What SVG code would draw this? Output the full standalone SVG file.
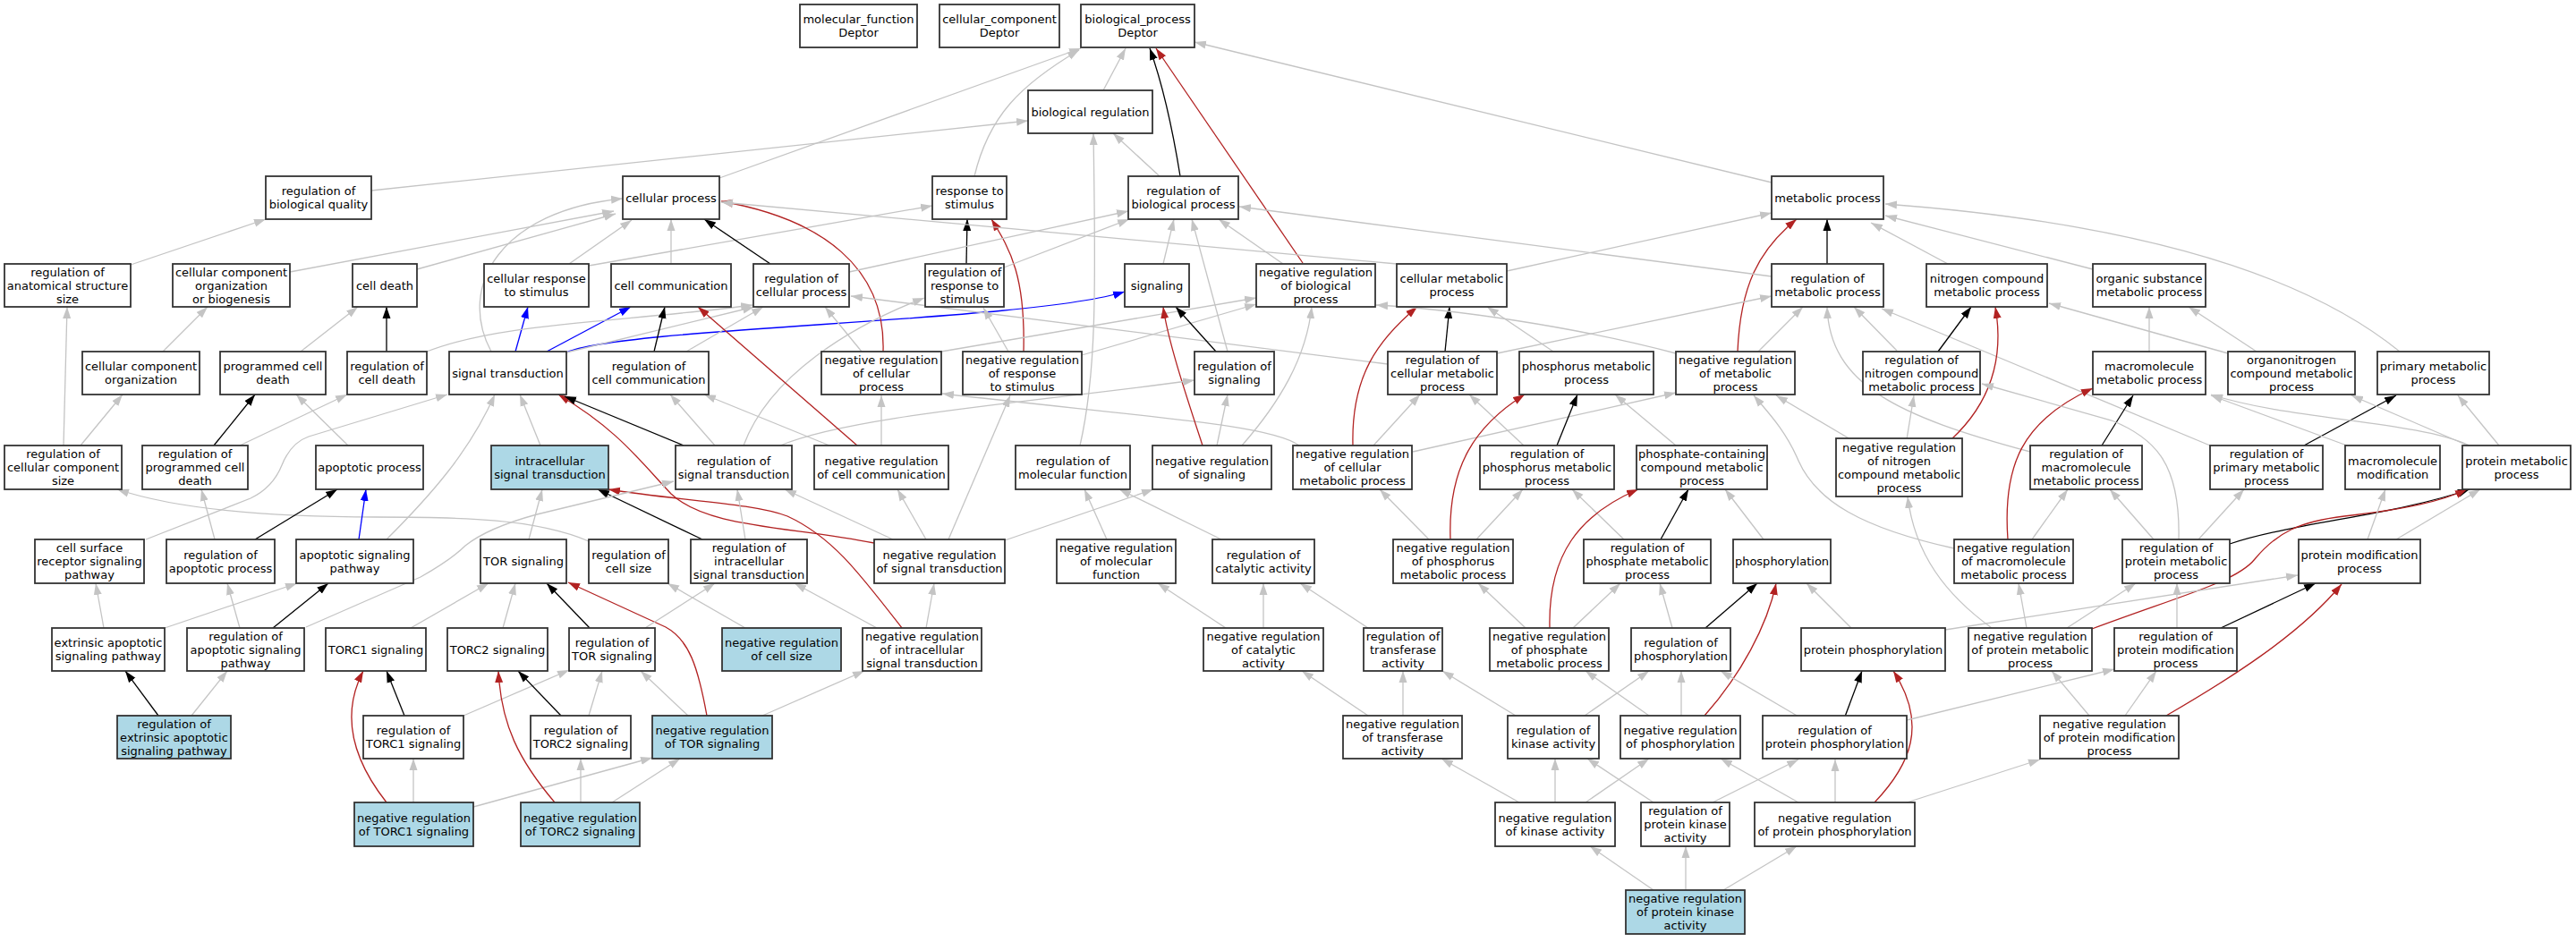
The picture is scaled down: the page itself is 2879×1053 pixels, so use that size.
<svg xmlns="http://www.w3.org/2000/svg" width="2879" height="1053" viewBox="0 0 2879 1053">
<style>
.node rect{fill:#fff;stroke:#333;stroke-width:1.8}
.node.hl rect{fill:#add8e6}
.node text{font-family:"DejaVu Sans","Liberation Sans",sans-serif;font-size:13px;fill:#000;text-anchor:middle}
#edges path{fill:none;stroke-width:1.3}
#edges .g{stroke:#c4c4c4;marker-end:url(#ag)}
#edges .k{stroke:#000;marker-end:url(#ak)}
#edges .r{stroke:#b22222;marker-end:url(#ar)}
#edges .b{stroke:#0000ff;marker-end:url(#ab)}
</style>
<defs>
<marker id="ag" viewBox="0 0 13 10" markerWidth="13" markerHeight="10" refX="13" refY="5" orient="auto" markerUnits="userSpaceOnUse"><path d="M0,0.5 L13,5 L0,9.5 z" fill="#c4c4c4"/></marker>
<marker id="ak" viewBox="0 0 13 10" markerWidth="13" markerHeight="10" refX="13" refY="5" orient="auto" markerUnits="userSpaceOnUse"><path d="M0,0.5 L13,5 L0,9.5 z" fill="#000"/></marker>
<marker id="ar" viewBox="0 0 13 10" markerWidth="13" markerHeight="10" refX="13" refY="5" orient="auto" markerUnits="userSpaceOnUse"><path d="M0,0.5 L13,5 L0,9.5 z" fill="#b22222"/></marker>
<marker id="ab" viewBox="0 0 13 10" markerWidth="13" markerHeight="10" refX="13" refY="5" orient="auto" markerUnits="userSpaceOnUse"><path d="M0,0.5 L13,5 L0,9.5 z" fill="#0000ff"/></marker>
</defs>
<rect x="0" y="0" width="2879" height="1053" fill="#fff"/>
<g id="edges">
<path class="g" d="M415,213 L1149,135"/>
<path class="g" d="M146,296 L297,245"/>
<path class="g" d="M324,304 L686,236"/>
<path class="g" d="M466,301 L688,239"/>
<path class="g" d="M549,393 C510,320 560,235 696,222"/>
<path class="g" d="M636,295 L706,246"/>
<path class="g" d="M658,297 L1042,230"/>
<path class="k" d="M432,393 L432,343"/>
<path class="g" d="M336,393 L400,343"/>
<path class="g" d="M182,393 L232,343"/>
<path class="g" d="M71,498 L75,343"/>
<path class="g" d="M90,498 L137,441"/>
<path class="k" d="M239,498 L285,441"/>
<path class="g" d="M268,498 L388,441"/>
<path class="g" d="M389,498 L331,441"/>
<path class="b" d="M576,393 L590,343"/>
<path class="b" d="M611,393 L705,343"/>
<path class="b" d="M633,394 C700,365 1150,360 1257,326"/>
<path class="g" d="M477,393 C560,360 700,360 841,341"/>
<path class="g" d="M633,394 L843,343"/>
<path class="g" d="M767,393 L853,343"/>
<path class="g" d="M604,498 L581,441"/>
<path class="g" d="M163,603 L280,557 Q305,545 315,520 Q325,495 345,488 L500,441"/>
<path class="g" d="M432,603 C480,555 525,505 553,441"/>
<path class="r" d="M977,607 C880,588 790,590 750,552 C715,515 690,480 624,441"/>
<path class="r" d="M1008,702 C960,640 930,600 880,577 C840,562 760,560 680,547"/>
<path class="k" d="M764,498 L631,443"/>
<path class="k" d="M785,603 L668,547"/>
<path class="g" d="M658,605 C600,580 520,578 420,578 C300,578 200,570 131,547"/>
<path class="g" d="M240,603 L225,547"/>
<path class="k" d="M285,603 L377,547"/>
<path class="b" d="M401,603 L409,547"/>
<path class="g" d="M591,603 L606,547"/>
<path class="g" d="M342,701 L470,645 Q505,625 520,610 Q545,590 600,575 L753,538"/>
<path class="g" d="M116,702 L107,652"/>
<path class="g" d="M184,702 L332,652"/>
<path class="g" d="M268,702 L254,652"/>
<path class="k" d="M305,702 L367,652"/>
<path class="g" d="M459,702 L546,652"/>
<path class="g" d="M562,702 L576,652"/>
<path class="k" d="M659,702 L611,652"/>
<path class="r" d="M790,800 C780,745 770,715 744,701 L635,651"/>
<path class="k" d="M177,800 L140,750"/>
<path class="g" d="M214,800 L254,750"/>
<path class="k" d="M452,800 L432,750"/>
<path class="g" d="M518,800 L636,749"/>
<path class="k" d="M627,800 L579,750"/>
<path class="g" d="M658,800 L673,750"/>
<path class="r" d="M432,897 C395,850 380,800 406,750"/>
<path class="g" d="M462,897 L462,848"/>
<path class="g" d="M529,902 L729,847"/>
<path class="r" d="M620,897 C580,850 560,810 557,750"/>
<path class="g" d="M649,897 L649,848"/>
<path class="g" d="M684,897 L760,848"/>
<path class="g" d="M721,702 L799,652"/>
<path class="g" d="M769,800 L716,750"/>
<path class="g" d="M852,800 L966,750"/>
<path class="g" d="M833,702 L746,652"/>
<path class="g" d="M980,702 L888,652"/>
<path class="g" d="M1035,702 L1044,652"/>
<path class="g" d="M833,603 L824,547"/>
<path class="g" d="M998,603 L877,547"/>
<path class="g" d="M1035,603 L1003,547"/>
<path class="g" d="M1060,603 L1129,442"/>
<path class="g" d="M1123,604 L1289,547"/>
<path class="g" d="M1237,603 L1212,547"/>
<path class="g" d="M1365,603 L1251,547"/>
<path class="g" d="M1370,702 L1294,652"/>
<path class="g" d="M1412,702 L1412,652"/>
<path class="g" d="M804,199 L1208,54"/>
<path class="g" d="M1089,197 C1105,130 1140,95 1206,56"/>
<path class="g" d="M1233,101 L1258,54"/>
<path class="k" d="M1319,197 Q1305,110 1285,54"/>
<path class="r" d="M1456,294 L1292,54"/>
<path class="g" d="M1980,204 L1335,47"/>
<path class="g" d="M1296,197 L1244,149"/>
<path class="g" d="M1207,498 C1225,420 1225,330 1222,149"/>
<path class="g" d="M750,295 L750,245"/>
<path class="k" d="M861,295 L787,245"/>
<path class="r" d="M987,393 C990,300 920,245 806,225"/>
<path class="k" d="M1080,295 L1081,245"/>
<path class="r" d="M1144,393 C1146,310 1130,280 1108,245"/>
<path class="g" d="M949,304 L1261,236"/>
<path class="g" d="M1122,299 L1262,245"/>
<path class="g" d="M1300,295 L1312,245"/>
<path class="g" d="M1372,393 L1332,245"/>
<path class="g" d="M1434,295 L1362,245"/>
<path class="g" d="M1561,295 L806,226"/>
<path class="g" d="M1551,407 L951,331"/>
<path class="g" d="M1452,498 C1420,475 1300,468 1053,440"/>
<path class="g" d="M963,393 L922,343"/>
<path class="g" d="M1052,393 L1404,333"/>
<path class="g" d="M1127,393 L1099,344"/>
<path class="g" d="M1209,397 L1404,340"/>
<path class="k" d="M1359,393 L1314,343"/>
<path class="r" d="M1344,498 C1325,440 1305,380 1300,343"/>
<path class="g" d="M1360,498 L1372,441"/>
<path class="g" d="M1388,498 C1430,450 1460,400 1466,343"/>
<path class="g" d="M872,498 C950,465 1150,450 1335,425"/>
<path class="g" d="M831,498 C860,420 950,365 1033,333"/>
<path class="g" d="M799,498 L749,441"/>
<path class="g" d="M927,498 L787,441"/>
<path class="r" d="M958,498 L780,343"/>
<path class="g" d="M985,498 L985,442"/>
<path class="k" d="M731,393 L743,343"/>
<path class="g" d="M1684,303 L1980,238"/>
<path class="k" d="M1615,393 L1620,343"/>
<path class="r" d="M1512,498 C1510,420 1540,380 1584,343"/>
<path class="g" d="M1736,393 L1662,343"/>
<path class="k" d="M2042,295 L2042,245"/>
<path class="r" d="M1942,393 C1945,320 1965,280 2008,245"/>
<path class="g" d="M1673,395 L1980,331"/>
<path class="g" d="M1873,395 C1760,365 1620,345 1538,341"/>
<path class="g" d="M1965,393 L2015,343"/>
<path class="g" d="M2120,392 L2072,343"/>
<path class="g" d="M2269,505 C2120,465 2045,430 2042,343"/>
<path class="g" d="M2470,498 L2103,345"/>
<path class="g" d="M1980,309 L1385,231"/>
<path class="g" d="M2068,491 L1985,442"/>
<path class="g" d="M1535,498 L1587,441"/>
<path class="g" d="M1579,505 L1873,439"/>
<path class="k" d="M1740,498 L1763,441"/>
<path class="g" d="M1703,498 L1642,441"/>
<path class="g" d="M1873,498 L1805,441"/>
<path class="r" d="M1621,603 C1618,520 1650,475 1704,441"/>
<path class="g" d="M2184,613 C2080,590 2030,560 2010,515 C1995,480 1975,460 1960,442"/>
<path class="g" d="M1597,603 L1542,547"/>
<path class="g" d="M1650,603 L1702,547"/>
<path class="g" d="M1815,603 L1757,547"/>
<path class="k" d="M1856,603 L1887,547"/>
<path class="r" d="M1732,702 C1730,620 1765,575 1831,547"/>
<path class="g" d="M1971,603 L1928,547"/>
<path class="g" d="M1529,702 L1453,652"/>
<path class="g" d="M1705,702 L1652,652"/>
<path class="g" d="M1758,702 L1811,652"/>
<path class="g" d="M1869,702 L1855,652"/>
<path class="k" d="M1906,702 L1964,652"/>
<path class="r" d="M1905,800 C1945,755 1975,700 1985,652"/>
<path class="g" d="M2069,702 L2019,652"/>
<path class="g" d="M1529,800 L1455,750"/>
<path class="g" d="M1568,800 L1568,750"/>
<path class="g" d="M1694,800 L1612,750"/>
<path class="g" d="M1771,800 L1843,750"/>
<path class="g" d="M1843,800 L1772,750"/>
<path class="g" d="M1879,800 L1879,750"/>
<path class="g" d="M2010,801 L1923,750"/>
<path class="k" d="M2062,801 L2081,750"/>
<path class="r" d="M2095,897 C2135,855 2155,810 2116,750"/>
<path class="g" d="M1698,897 L1611,848"/>
<path class="g" d="M1738,897 L1738,848"/>
<path class="g" d="M1772,897 L1843,848"/>
<path class="g" d="M1848,897 L1774,848"/>
<path class="g" d="M1914,897 L2010,849"/>
<path class="g" d="M2010,897 L1923,848"/>
<path class="g" d="M2051,897 L2051,849"/>
<path class="g" d="M1848,995 L1777,946"/>
<path class="g" d="M1884,995 L1884,946"/>
<path class="g" d="M1926,995 L2008,946"/>
<path class="g" d="M2177,295 L2091,249"/>
<path class="g" d="M2339,301 L2107,241"/>
<path class="g" d="M2682,393 C2580,310 2400,250 2107,228"/>
<path class="k" d="M2166,393 L2203,343"/>
<path class="r" d="M2181,491 C2225,450 2240,400 2230,343"/>
<path class="g" d="M2402,393 L2402,343"/>
<path class="g" d="M2522,393 L2446,343"/>
<path class="g" d="M2490,395 L2290,339"/>
<path class="k" d="M2349,498 L2384,442"/>
<path class="r" d="M2244,603 C2238,520 2260,470 2339,434"/>
<path class="k" d="M2575,498 L2678,442"/>
<path class="g" d="M2793,498 L2747,442"/>
<path class="g" d="M2760,498 C2700,470 2560,470 2471,441"/>
<path class="g" d="M2758,498 L2628,442"/>
<path class="g" d="M2623,498 L2471,442"/>
<path class="g" d="M2435,603 C2437,520 2410,490 2360,470 L2215,429"/>
<path class="g" d="M2407,603 L2358,547"/>
<path class="g" d="M2457,603 L2508,547"/>
<path class="k" d="M2492,608 C2560,585 2680,575 2760,547"/>
<path class="r" d="M2338,703 C2440,665 2500,650 2520,625 C2545,595 2570,583 2620,577 C2690,569 2730,560 2757,547"/>
<path class="g" d="M2646,603 L2666,547"/>
<path class="g" d="M2678,603 L2772,547"/>
<path class="g" d="M2271,603 L2311,547"/>
<path class="g" d="M2265,702 L2256,652"/>
<path class="g" d="M2310,702 L2387,652"/>
<path class="g" d="M2433,702 L2433,652"/>
<path class="k" d="M2482,702 L2588,652"/>
<path class="g" d="M2335,800 L2293,750"/>
<path class="g" d="M2375,800 L2410,750"/>
<path class="r" d="M2421,800 C2490,760 2570,710 2617,653"/>
<path class="g" d="M2174,704 L2568,643"/>
<path class="g" d="M2131,805 L2363,748"/>
<path class="g" d="M2125,899 L2280,849"/>
<path class="g" d="M2226,702 C2175,665 2140,620 2132,555"/>
<path class="g" d="M2131,491 L2139,442"/>
</g>
<g id="n_mf" class="node"><rect x="894" y="5" width="131" height="48"/><text x="959.5" y="26.1"><tspan x="959.5">molecular_function</tspan><tspan x="959.5" dy="15">Deptor</tspan></text></g>
<g id="n_cc_root" class="node"><rect x="1050" y="5" width="134" height="48"/><text x="1117" y="26.1"><tspan x="1117">cellular_component</tspan><tspan x="1117" dy="15">Deptor</tspan></text></g>
<g id="n_bp" class="node"><rect x="1208" y="5" width="127" height="48"/><text x="1271.5" y="26.1"><tspan x="1271.5">biological_process</tspan><tspan x="1271.5" dy="15">Deptor</tspan></text></g>
<g id="n_breg" class="node"><rect x="1149" y="101" width="139" height="48"/><text x="1218.5" y="129.6">biological regulation</text></g>
<g id="n_rbq" class="node"><rect x="297" y="197" width="118" height="48"/><text x="356" y="218.1"><tspan x="356">regulation of</tspan><tspan x="356" dy="15">biological quality</tspan></text></g>
<g id="n_cp" class="node"><rect x="696" y="197" width="108" height="48"/><text x="750" y="225.6">cellular process</text></g>
<g id="n_rts" class="node"><rect x="1042" y="197" width="83" height="48"/><text x="1083.5" y="218.1"><tspan x="1083.5">response to</tspan><tspan x="1083.5" dy="15">stimulus</tspan></text></g>
<g id="n_rbp" class="node"><rect x="1261" y="197" width="123" height="48"/><text x="1322.5" y="218.1"><tspan x="1322.5">regulation of</tspan><tspan x="1322.5" dy="15">biological process</tspan></text></g>
<g id="n_mp" class="node"><rect x="1980" y="197" width="125" height="48"/><text x="2042.5" y="225.6">metabolic process</text></g>
<g id="n_rass" class="node"><rect x="5" y="295" width="141" height="48"/><text x="75.5" y="308.6"><tspan x="75.5">regulation of</tspan><tspan x="75.5" dy="15">anatomical structure</tspan><tspan x="75.5" dy="15">size</tspan></text></g>
<g id="n_ccob" class="node"><rect x="193" y="295" width="131" height="48"/><text x="258.5" y="308.6"><tspan x="258.5">cellular component</tspan><tspan x="258.5" dy="15">organization</tspan><tspan x="258.5" dy="15">or biogenesis</tspan></text></g>
<g id="n_cd" class="node"><rect x="394" y="295" width="72" height="48"/><text x="430" y="323.6">cell death</text></g>
<g id="n_crs" class="node"><rect x="541" y="295" width="117" height="48"/><text x="599.5" y="316.1"><tspan x="599.5">cellular response</tspan><tspan x="599.5" dy="15">to stimulus</tspan></text></g>
<g id="n_cc" class="node"><rect x="683" y="295" width="134" height="48"/><text x="750" y="323.6">cell communication</text></g>
<g id="n_rcp" class="node"><rect x="842" y="295" width="107" height="48"/><text x="895.5" y="316.1"><tspan x="895.5">regulation of</tspan><tspan x="895.5" dy="15">cellular process</tspan></text></g>
<g id="n_rrs" class="node"><rect x="1034" y="295" width="88" height="48"/><text x="1078" y="308.6"><tspan x="1078">regulation of</tspan><tspan x="1078" dy="15">response to</tspan><tspan x="1078" dy="15">stimulus</tspan></text></g>
<g id="n_sig" class="node"><rect x="1257" y="295" width="72" height="48"/><text x="1293" y="323.6">signaling</text></g>
<g id="n_nrbp" class="node"><rect x="1404" y="295" width="133" height="48"/><text x="1470.5" y="308.6"><tspan x="1470.5">negative regulation</tspan><tspan x="1470.5" dy="15">of biological</tspan><tspan x="1470.5" dy="15">process</tspan></text></g>
<g id="n_cmp" class="node"><rect x="1561" y="295" width="123" height="48"/><text x="1622.5" y="316.1"><tspan x="1622.5">cellular metabolic</tspan><tspan x="1622.5" dy="15">process</tspan></text></g>
<g id="n_rmp" class="node"><rect x="1980" y="295" width="125" height="48"/><text x="2042.5" y="316.1"><tspan x="2042.5">regulation of</tspan><tspan x="2042.5" dy="15">metabolic process</tspan></text></g>
<g id="n_ncmp" class="node"><rect x="2153" y="295" width="135" height="48"/><text x="2220.5" y="316.1"><tspan x="2220.5">nitrogen compound</tspan><tspan x="2220.5" dy="15">metabolic process</tspan></text></g>
<g id="n_osmp" class="node"><rect x="2339" y="295" width="126" height="48"/><text x="2402" y="316.1"><tspan x="2402">organic substance</tspan><tspan x="2402" dy="15">metabolic process</tspan></text></g>
<g id="n_cco" class="node"><rect x="92" y="393" width="131" height="48"/><text x="157.5" y="414.1"><tspan x="157.5">cellular component</tspan><tspan x="157.5" dy="15">organization</tspan></text></g>
<g id="n_pcd" class="node"><rect x="246" y="393" width="118" height="48"/><text x="305" y="414.1"><tspan x="305">programmed cell</tspan><tspan x="305" dy="15">death</tspan></text></g>
<g id="n_rcd" class="node"><rect x="388" y="393" width="89" height="48"/><text x="432.5" y="414.1"><tspan x="432.5">regulation of</tspan><tspan x="432.5" dy="15">cell death</tspan></text></g>
<g id="n_st" class="node"><rect x="502" y="393" width="131" height="48"/><text x="567.5" y="421.6">signal transduction</text></g>
<g id="n_rcc" class="node"><rect x="658" y="393" width="134" height="48"/><text x="725" y="414.1"><tspan x="725">regulation of</tspan><tspan x="725" dy="15">cell communication</tspan></text></g>
<g id="n_nrcp" class="node"><rect x="918" y="393" width="134" height="48"/><text x="985" y="406.6"><tspan x="985">negative regulation</tspan><tspan x="985" dy="15">of cellular</tspan><tspan x="985" dy="15">process</tspan></text></g>
<g id="n_nrrs" class="node"><rect x="1076" y="393" width="133" height="48"/><text x="1142.5" y="406.6"><tspan x="1142.5">negative regulation</tspan><tspan x="1142.5" dy="15">of response</tspan><tspan x="1142.5" dy="15">to stimulus</tspan></text></g>
<g id="n_rs" class="node"><rect x="1335" y="393" width="89" height="48"/><text x="1379.5" y="414.1"><tspan x="1379.5">regulation of</tspan><tspan x="1379.5" dy="15">signaling</tspan></text></g>
<g id="n_rcmp" class="node"><rect x="1551" y="393" width="122" height="48"/><text x="1612" y="406.6"><tspan x="1612">regulation of</tspan><tspan x="1612" dy="15">cellular metabolic</tspan><tspan x="1612" dy="15">process</tspan></text></g>
<g id="n_pmp" class="node"><rect x="1698" y="393" width="150" height="48"/><text x="1773" y="414.1"><tspan x="1773">phosphorus metabolic</tspan><tspan x="1773" dy="15">process</tspan></text></g>
<g id="n_nrmp" class="node"><rect x="1873" y="393" width="133" height="48"/><text x="1939.5" y="406.6"><tspan x="1939.5">negative regulation</tspan><tspan x="1939.5" dy="15">of metabolic</tspan><tspan x="1939.5" dy="15">process</tspan></text></g>
<g id="n_rncmp" class="node"><rect x="2082" y="393" width="131" height="48"/><text x="2147.5" y="406.6"><tspan x="2147.5">regulation of</tspan><tspan x="2147.5" dy="15">nitrogen compound</tspan><tspan x="2147.5" dy="15">metabolic process</tspan></text></g>
<g id="n_mmp" class="node"><rect x="2339" y="393" width="126" height="48"/><text x="2402" y="414.1"><tspan x="2402">macromolecule</tspan><tspan x="2402" dy="15">metabolic process</tspan></text></g>
<g id="n_oncmp" class="node"><rect x="2490" y="393" width="142" height="48"/><text x="2561" y="406.6"><tspan x="2561">organonitrogen</tspan><tspan x="2561" dy="15">compound metabolic</tspan><tspan x="2561" dy="15">process</tspan></text></g>
<g id="n_primp" class="node"><rect x="2657" y="393" width="125" height="48"/><text x="2719.5" y="414.1"><tspan x="2719.5">primary metabolic</tspan><tspan x="2719.5" dy="15">process</tspan></text></g>
<g id="n_rccs" class="node"><rect x="5" y="498" width="131" height="49"/><text x="70.5" y="512.1"><tspan x="70.5">regulation of</tspan><tspan x="70.5" dy="15">cellular component</tspan><tspan x="70.5" dy="15">size</tspan></text></g>
<g id="n_rpcd" class="node"><rect x="159" y="498" width="118" height="49"/><text x="218" y="512.1"><tspan x="218">regulation of</tspan><tspan x="218" dy="15">programmed cell</tspan><tspan x="218" dy="15">death</tspan></text></g>
<g id="n_ap" class="node"><rect x="353" y="498" width="120" height="49"/><text x="413" y="527.1">apoptotic process</text></g>
<g id="n_ist" class="node hl"><rect x="549" y="498" width="131" height="49"/><text x="614.5" y="519.6"><tspan x="614.5">intracellular</tspan><tspan x="614.5" dy="15">signal transduction</tspan></text></g>
<g id="n_rst" class="node"><rect x="755" y="498" width="130" height="49"/><text x="820" y="519.6"><tspan x="820">regulation of</tspan><tspan x="820" dy="15">signal transduction</tspan></text></g>
<g id="n_nrcc" class="node"><rect x="910" y="498" width="150" height="49"/><text x="985" y="519.6"><tspan x="985">negative regulation</tspan><tspan x="985" dy="15">of cell communication</tspan></text></g>
<g id="n_rmf" class="node"><rect x="1135" y="498" width="128" height="49"/><text x="1199" y="519.6"><tspan x="1199">regulation of</tspan><tspan x="1199" dy="15">molecular function</tspan></text></g>
<g id="n_nrs" class="node"><rect x="1288" y="498" width="133" height="49"/><text x="1354.5" y="519.6"><tspan x="1354.5">negative regulation</tspan><tspan x="1354.5" dy="15">of signaling</tspan></text></g>
<g id="n_nrcmp" class="node"><rect x="1445" y="498" width="133" height="49"/><text x="1511.5" y="512.1"><tspan x="1511.5">negative regulation</tspan><tspan x="1511.5" dy="15">of cellular</tspan><tspan x="1511.5" dy="15">metabolic process</tspan></text></g>
<g id="n_rpmp" class="node"><rect x="1654" y="498" width="150" height="49"/><text x="1729" y="512.1"><tspan x="1729">regulation of</tspan><tspan x="1729" dy="15">phosphorus metabolic</tspan><tspan x="1729" dy="15">process</tspan></text></g>
<g id="n_pccmp" class="node"><rect x="1829" y="498" width="146" height="49"/><text x="1902" y="512.1"><tspan x="1902">phosphate-containing</tspan><tspan x="1902" dy="15">compound metabolic</tspan><tspan x="1902" dy="15">process</tspan></text></g>
<g id="n_nrncmp" class="node"><rect x="2052" y="490" width="141" height="65"/><text x="2122.5" y="504.6"><tspan x="2122.5">negative regulation</tspan><tspan x="2122.5" dy="15">of nitrogen</tspan><tspan x="2122.5" dy="15">compound metabolic</tspan><tspan x="2122.5" dy="15">process</tspan></text></g>
<g id="n_rmmp" class="node"><rect x="2269" y="498" width="125" height="49"/><text x="2331.5" y="512.1"><tspan x="2331.5">regulation of</tspan><tspan x="2331.5" dy="15">macromolecule</tspan><tspan x="2331.5" dy="15">metabolic process</tspan></text></g>
<g id="n_rprimp" class="node"><rect x="2470" y="498" width="126" height="49"/><text x="2533" y="512.1"><tspan x="2533">regulation of</tspan><tspan x="2533" dy="15">primary metabolic</tspan><tspan x="2533" dy="15">process</tspan></text></g>
<g id="n_mm" class="node"><rect x="2621" y="498" width="106" height="49"/><text x="2674" y="519.6"><tspan x="2674">macromolecule</tspan><tspan x="2674" dy="15">modification</tspan></text></g>
<g id="n_protmp" class="node"><rect x="2752" y="498" width="121" height="49"/><text x="2812.5" y="519.6"><tspan x="2812.5">protein metabolic</tspan><tspan x="2812.5" dy="15">process</tspan></text></g>
<g id="n_csrsp" class="node"><rect x="39" y="603" width="122" height="49"/><text x="100" y="617.1"><tspan x="100">cell surface</tspan><tspan x="100" dy="15">receptor signaling</tspan><tspan x="100" dy="15">pathway</tspan></text></g>
<g id="n_rap" class="node"><rect x="186" y="603" width="121" height="49"/><text x="246.5" y="624.6"><tspan x="246.5">regulation of</tspan><tspan x="246.5" dy="15">apoptotic process</tspan></text></g>
<g id="n_asp" class="node"><rect x="331" y="603" width="131" height="49"/><text x="396.5" y="624.6"><tspan x="396.5">apoptotic signaling</tspan><tspan x="396.5" dy="15">pathway</tspan></text></g>
<g id="n_tor" class="node"><rect x="537" y="603" width="96" height="49"/><text x="585" y="632.1">TOR signaling</text></g>
<g id="n_rcs" class="node"><rect x="658" y="603" width="89" height="49"/><text x="702.5" y="624.6"><tspan x="702.5">regulation of</tspan><tspan x="702.5" dy="15">cell size</tspan></text></g>
<g id="n_rist" class="node"><rect x="772" y="603" width="130" height="49"/><text x="837" y="617.1"><tspan x="837">regulation of</tspan><tspan x="837" dy="15">intracellular</tspan><tspan x="837" dy="15">signal transduction</tspan></text></g>
<g id="n_nrst" class="node"><rect x="977" y="603" width="146" height="49"/><text x="1050" y="624.6"><tspan x="1050">negative regulation</tspan><tspan x="1050" dy="15">of signal transduction</tspan></text></g>
<g id="n_nrmf" class="node"><rect x="1181" y="603" width="133" height="49"/><text x="1247.5" y="617.1"><tspan x="1247.5">negative regulation</tspan><tspan x="1247.5" dy="15">of molecular</tspan><tspan x="1247.5" dy="15">function</tspan></text></g>
<g id="n_rca" class="node"><rect x="1355" y="603" width="114" height="49"/><text x="1412" y="624.6"><tspan x="1412">regulation of</tspan><tspan x="1412" dy="15">catalytic activity</tspan></text></g>
<g id="n_nrpmp" class="node"><rect x="1557" y="603" width="134" height="49"/><text x="1624" y="617.1"><tspan x="1624">negative regulation</tspan><tspan x="1624" dy="15">of phosphorus</tspan><tspan x="1624" dy="15">metabolic process</tspan></text></g>
<g id="n_rphmp" class="node"><rect x="1770" y="603" width="142" height="49"/><text x="1841" y="617.1"><tspan x="1841">regulation of</tspan><tspan x="1841" dy="15">phosphate metabolic</tspan><tspan x="1841" dy="15">process</tspan></text></g>
<g id="n_phos" class="node"><rect x="1937" y="603" width="109" height="49"/><text x="1991.5" y="632.1">phosphorylation</text></g>
<g id="n_nrmmp" class="node"><rect x="2184" y="603" width="133" height="49"/><text x="2250.5" y="617.1"><tspan x="2250.5">negative regulation</tspan><tspan x="2250.5" dy="15">of macromolecule</tspan><tspan x="2250.5" dy="15">metabolic process</tspan></text></g>
<g id="n_rprotmp" class="node"><rect x="2372" y="603" width="120" height="49"/><text x="2432" y="617.1"><tspan x="2432">regulation of</tspan><tspan x="2432" dy="15">protein metabolic</tspan><tspan x="2432" dy="15">process</tspan></text></g>
<g id="n_pmodp" class="node"><rect x="2569" y="603" width="136" height="49"/><text x="2637" y="624.6"><tspan x="2637">protein modification</tspan><tspan x="2637" dy="15">process</tspan></text></g>
<g id="n_easp" class="node"><rect x="58" y="702" width="126" height="48"/><text x="121" y="723.1"><tspan x="121">extrinsic apoptotic</tspan><tspan x="121" dy="15">signaling pathway</tspan></text></g>
<g id="n_rasp" class="node"><rect x="209" y="702" width="131" height="48"/><text x="274.5" y="715.6"><tspan x="274.5">regulation of</tspan><tspan x="274.5" dy="15">apoptotic signaling</tspan><tspan x="274.5" dy="15">pathway</tspan></text></g>
<g id="n_torc1" class="node"><rect x="364" y="702" width="112" height="48"/><text x="420" y="730.6">TORC1 signaling</text></g>
<g id="n_torc2" class="node"><rect x="500" y="702" width="112" height="48"/><text x="556" y="730.6">TORC2 signaling</text></g>
<g id="n_rtor" class="node"><rect x="636" y="702" width="96" height="48"/><text x="684" y="723.1"><tspan x="684">regulation of</tspan><tspan x="684" dy="15">TOR signaling</tspan></text></g>
<g id="n_nrcs" class="node hl"><rect x="807" y="702" width="133" height="48"/><text x="873.5" y="723.1"><tspan x="873.5">negative regulation</tspan><tspan x="873.5" dy="15">of cell size</tspan></text></g>
<g id="n_nrist" class="node"><rect x="964" y="702" width="133" height="48"/><text x="1030.5" y="715.6"><tspan x="1030.5">negative regulation</tspan><tspan x="1030.5" dy="15">of intracellular</tspan><tspan x="1030.5" dy="15">signal transduction</tspan></text></g>
<g id="n_nrca" class="node"><rect x="1345" y="702" width="134" height="48"/><text x="1412" y="715.6"><tspan x="1412">negative regulation</tspan><tspan x="1412" dy="15">of catalytic</tspan><tspan x="1412" dy="15">activity</tspan></text></g>
<g id="n_rta" class="node"><rect x="1524" y="702" width="88" height="48"/><text x="1568" y="715.6"><tspan x="1568">regulation of</tspan><tspan x="1568" dy="15">transferase</tspan><tspan x="1568" dy="15">activity</tspan></text></g>
<g id="n_nrphmp" class="node"><rect x="1665" y="702" width="133" height="48"/><text x="1731.5" y="715.6"><tspan x="1731.5">negative regulation</tspan><tspan x="1731.5" dy="15">of phosphate</tspan><tspan x="1731.5" dy="15">metabolic process</tspan></text></g>
<g id="n_rphos" class="node"><rect x="1823" y="702" width="111" height="48"/><text x="1878.5" y="723.1"><tspan x="1878.5">regulation of</tspan><tspan x="1878.5" dy="15">phosphorylation</tspan></text></g>
<g id="n_pphos" class="node"><rect x="2013" y="702" width="161" height="48"/><text x="2093.5" y="730.6">protein phosphorylation</text></g>
<g id="n_nrprotmp" class="node"><rect x="2200" y="702" width="138" height="48"/><text x="2269" y="715.6"><tspan x="2269">negative regulation</tspan><tspan x="2269" dy="15">of protein metabolic</tspan><tspan x="2269" dy="15">process</tspan></text></g>
<g id="n_rpmodp" class="node"><rect x="2363" y="702" width="137" height="48"/><text x="2431.5" y="715.6"><tspan x="2431.5">regulation of</tspan><tspan x="2431.5" dy="15">protein modification</tspan><tspan x="2431.5" dy="15">process</tspan></text></g>
<g id="n_reasp" class="node hl"><rect x="131" y="800" width="127" height="48"/><text x="194.5" y="813.6"><tspan x="194.5">regulation of</tspan><tspan x="194.5" dy="15">extrinsic apoptotic</tspan><tspan x="194.5" dy="15">signaling pathway</tspan></text></g>
<g id="n_rtorc1" class="node"><rect x="406" y="800" width="112" height="48"/><text x="462" y="821.1"><tspan x="462">regulation of</tspan><tspan x="462" dy="15">TORC1 signaling</tspan></text></g>
<g id="n_rtorc2" class="node"><rect x="593" y="800" width="112" height="48"/><text x="649" y="821.1"><tspan x="649">regulation of</tspan><tspan x="649" dy="15">TORC2 signaling</tspan></text></g>
<g id="n_nrtor" class="node hl"><rect x="729" y="800" width="134" height="48"/><text x="796" y="821.1"><tspan x="796">negative regulation</tspan><tspan x="796" dy="15">of TOR signaling</tspan></text></g>
<g id="n_nrta" class="node"><rect x="1501" y="800" width="133" height="48"/><text x="1567.5" y="813.6"><tspan x="1567.5">negative regulation</tspan><tspan x="1567.5" dy="15">of transferase</tspan><tspan x="1567.5" dy="15">activity</tspan></text></g>
<g id="n_rka" class="node"><rect x="1685" y="800" width="102" height="48"/><text x="1736" y="821.1"><tspan x="1736">regulation of</tspan><tspan x="1736" dy="15">kinase activity</tspan></text></g>
<g id="n_nrphos" class="node"><rect x="1811" y="800" width="134" height="48"/><text x="1878" y="821.1"><tspan x="1878">negative regulation</tspan><tspan x="1878" dy="15">of phosphorylation</tspan></text></g>
<g id="n_rpphos" class="node"><rect x="1970" y="800" width="161" height="48"/><text x="2050.5" y="821.1"><tspan x="2050.5">regulation of</tspan><tspan x="2050.5" dy="15">protein phosphorylation</tspan></text></g>
<g id="n_nrpmodp" class="node"><rect x="2280" y="800" width="155" height="48"/><text x="2357.5" y="813.6"><tspan x="2357.5">negative regulation</tspan><tspan x="2357.5" dy="15">of protein modification</tspan><tspan x="2357.5" dy="15">process</tspan></text></g>
<g id="n_nrtorc1" class="node hl"><rect x="396" y="897" width="133" height="49"/><text x="462.5" y="918.6"><tspan x="462.5">negative regulation</tspan><tspan x="462.5" dy="15">of TORC1 signaling</tspan></text></g>
<g id="n_nrtorc2" class="node hl"><rect x="582" y="897" width="133" height="49"/><text x="648.5" y="918.6"><tspan x="648.5">negative regulation</tspan><tspan x="648.5" dy="15">of TORC2 signaling</tspan></text></g>
<g id="n_nrka" class="node"><rect x="1671" y="897" width="134" height="49"/><text x="1738" y="918.6"><tspan x="1738">negative regulation</tspan><tspan x="1738" dy="15">of kinase activity</tspan></text></g>
<g id="n_rpka" class="node"><rect x="1834" y="897" width="99" height="49"/><text x="1883.5" y="911.1"><tspan x="1883.5">regulation of</tspan><tspan x="1883.5" dy="15">protein kinase</tspan><tspan x="1883.5" dy="15">activity</tspan></text></g>
<g id="n_nrpphos" class="node"><rect x="1961" y="897" width="179" height="49"/><text x="2050.5" y="918.6"><tspan x="2050.5">negative regulation</tspan><tspan x="2050.5" dy="15">of protein phosphorylation</tspan></text></g>
<g id="n_nrpka" class="node hl"><rect x="1817" y="995" width="133" height="49"/><text x="1883.5" y="1009.1"><tspan x="1883.5">negative regulation</tspan><tspan x="1883.5" dy="15">of protein kinase</tspan><tspan x="1883.5" dy="15">activity</tspan></text></g>
</svg>
